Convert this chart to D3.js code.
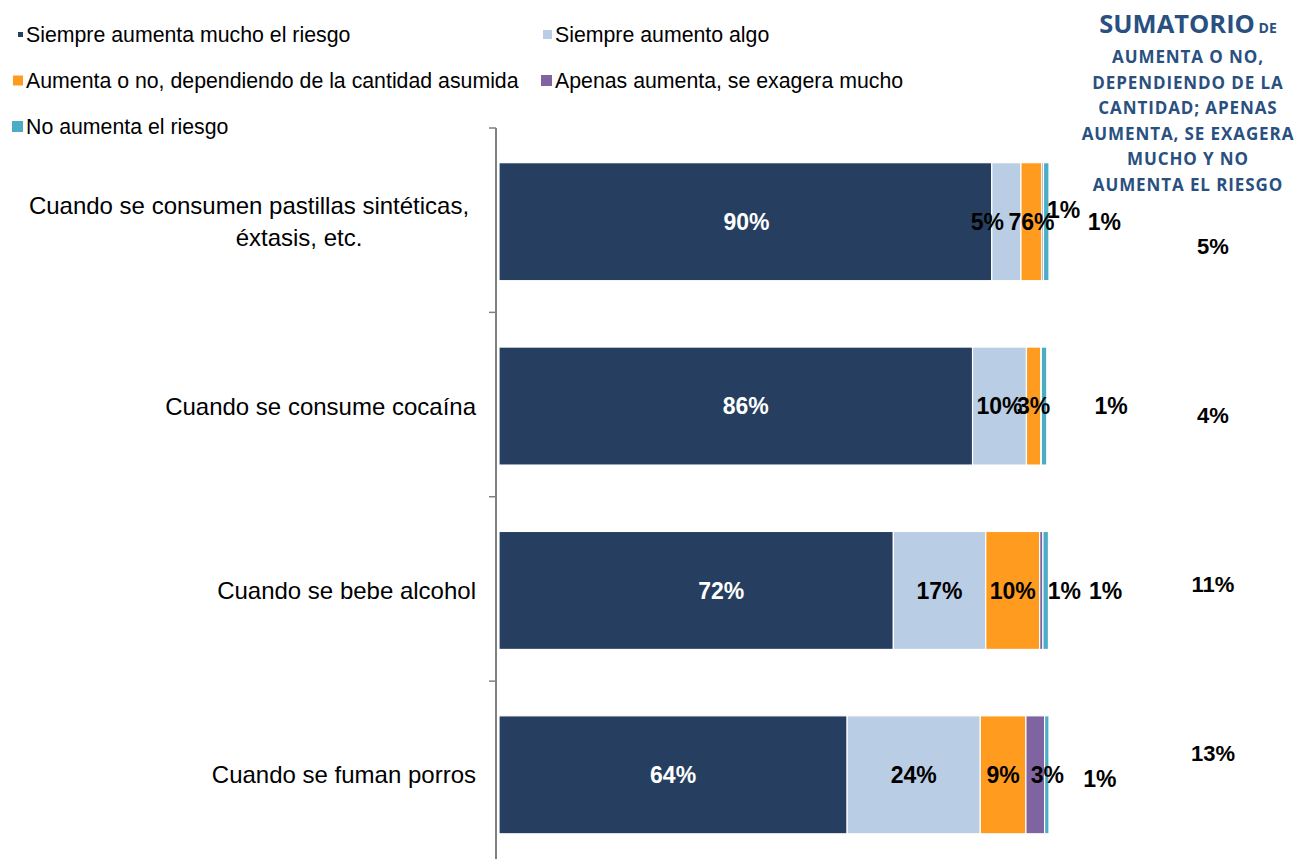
<!DOCTYPE html>
<html>
<head>
<meta charset="utf-8">
<script src="https://cdn.jsdelivr.net/npm/d3@7"></script>
<style>
  body { margin: 0; background: #fff; }
  svg { display: block; }
  text { font-family: "Liberation Sans", Arial, sans-serif; }
</style>
</head>
<body>
<svg id="chart" width="1298" height="859"></svg>
<script>
// data (percent)
const categories = [
  "Cuando se consumen pastillas sintéticas,\néxtasis, etc.",
  "Cuando se consume cocaína",
  "Cuando se bebe alcohol",
  "Cuando se fuman porros"
];
const seriesNames = [
  "Siempre aumenta mucho el riesgo",
  "Siempre aumento algo",
  "Aumenta o no, dependiendo de la cantidad asumida",
  "Apenas aumenta, se exagera mucho",
  "No aumenta el riesgo"
];
const seriesColors = ["#263f60", "#b9cde5", "#ff9c20", "#8064a2", "#4bacc6"];

const muchoRiesgo   = [89.6, 86.1, 71.7, 63.3];
const aumentoAlgo   = [5.3, 9.8, 16.8, 24.2];
const segunCantidad = [3.8, 2.6, 9.8, 8.3];
const apenasAumenta = [0.3, 0.1, 0.6, 3.4];
const noAumenta     = [1.0, 1.0, 1.0, 0.8];

// labels as printed on the chart
const muchoLabels    = ["90%", "86%", "72%", "64%"];
const algoLabels     = ["5%", "10%", "17%", "24%"];
const cantidadLabels = ["76%", "3%", "10%", "9%"];
const apenasLabels   = ["1%", "", "1%", "3%"];
const noLabels       = ["1%", "1%", "1%", "1%"];

const sumatorio = ["5%", "4%", "11%", "13%"];

const sumTitle = "SUMATORIO";
const sumTitleSmall = "DE";
const sumSubtitle = ["AUMENTA O NO,", "DEPENDIENDO DE LA", "CANTIDAD; APENAS",
                     "AUMENTA, SE EXAGERA", "MUCHO Y NO", "AUMENTA EL RIESGO"];

// hand moved labels in the original (dx, dy), per series then category
const labelNudge = [
  [[1, 0], [10, 0], [25, 0], [0, 0]],
  [[-19, 0], [0, 0], [0, 0], [0, 0]],
  [[0, 0], [0, 0], [0, 0], [0, 0]],
  [[21, -12], [0, 0], [23, 0], [12, 0]],
  [[58, 0], [67, 0], [60, 0], [53, 4]]
];

const svg = d3.select('#chart');
const keys = d3.range(seriesNames.length);
const valueArrays = [muchoRiesgo, aumentoAlgo, segunCantidad, apenasAumenta, noAumenta];
const labelArrays = [muchoLabels, algoLabels, cantidadLabels, apenasLabels, noLabels];

const table = categories.map((c, i) => {
  const row = { cat: c };
  keys.forEach(k => row[k] = valueArrays[k][i]);
  return row;
});
const stacked = d3.stack().keys(keys)(table);

const xScale = d3.scaleLinear().domain([0, 100]).range([499, 1049]);
const yScale = d3.scaleBand()
  .domain(categories)
  .range([128, 865.5])
  .paddingInner(0.36)
  .paddingOuter(0.18);

// bars
const layers = svg.append('g')
  .selectAll('g')
  .data(stacked)
  .enter()
  .append('g')
  .attr('fill', d => seriesColors[d.key]);

layers.selectAll('rect')
  .data(d => d)
  .enter()
  .append('rect')
  .attr('x', d => xScale(d[0]))
  .attr('y', d => yScale(d.data.cat) + 1.5)
  .attr('width', d => xScale(d[1]) - xScale(d[0]))
  .attr('height', yScale.bandwidth())
  .attr('stroke', '#fff')
  .attr('stroke-width', 1.2);

// value labels
stacked.forEach(layer => {
  const k = layer.key;
  svg.append('g')
    .selectAll('text')
    .data(layer)
    .enter()
    .append('text')
    .attr('x', (d, i) => (xScale(d[0]) + xScale(d[1])) / 2 + labelNudge[k][i][0])
    .attr('y', (d, i) => yScale(d.data.cat) + 1.5 + yScale.bandwidth() / 2 + labelNudge[k][i][1])
    .attr('dy', '0.36em')
    .attr('text-anchor', 'middle')
    .attr('font-size', 23)
    .attr('font-weight', 'bold')
    .attr('fill', k === 0 ? '#fff' : '#000')
    .text((d, i) => labelArrays[k][i]);
});

// category axis
const yAxis = d3.axisLeft(yScale).tickSize(0).tickFormat('');
const axisG = svg.append('g')
  .attr('transform', 'translate(496,0)')
  .call(yAxis);
axisG.select('.domain')
  .attr('stroke', '#808080')
  .attr('stroke-width', 2)
  .attr('d', 'M0,128V866');
axisG.selectAll('.boundary')
  .data(d3.range(categories.length))
  .enter()
  .append('line')
  .attr('x1', -7).attr('x2', 0)
  .attr('y1', i => yScale(categories[i]) - yScale.step() * yScale.paddingOuter())
  .attr('y2', i => yScale(categories[i]) - yScale.step() * yScale.paddingOuter())
  .attr('stroke', '#808080').attr('stroke-width', 1.5);

// category labels
categories.forEach((c, i) => {
  const lines = c.split('\n');
  const cy = yScale(c) + 1.5 + yScale.bandwidth() / 2;
  const t = svg.append('text')
    .attr('font-size', 24)
    .attr('fill', '#000')
    .attr('text-anchor', lines.length > 1 ? 'middle' : 'end');
  lines.forEach((line, j) => {
    t.append('tspan')
      .attr('x', lines.length > 1 ? (j === 0 ? 249 : 299) : 476)
      .attr('y', cy + (j - (lines.length - 1) / 2) * 32)
      .attr('dy', '0.36em')
      .text(line);
  });
});

// legend
const legendCols = [23, 552];
const legendRows = [34.5, 80.5, 126.5];
const markerSize = [5, 9, 10, 11, 11];
seriesNames.forEach((name, k) => {
  const col = k === 4 ? 0 : k % 2;
  const row = Math.floor(k / 2);
  const g = svg.append('g')
    .attr('transform', `translate(${legendCols[col]},${legendRows[row]})`);
  g.append('rect')
    .attr('x', -markerSize[k])
    .attr('y', -markerSize[k] / 2)
    .attr('width', markerSize[k])
    .attr('height', markerSize[k])
    .attr('fill', seriesColors[k]);
  g.append('text')
    .attr('x', 3)
    .attr('dy', '0.36em')
    .attr('font-size', 21.3)
    .attr('fill', '#000')
    .text(name);
});

// sumatorio column
const sumX = 1188;
const header = svg.append('text')
  .attr('x', sumX)
  .attr('y', 33)
  .attr('text-anchor', 'middle')
  .attr('fill', '#29507f')
  .attr('font-weight', 'bold')
  .style('font-family', '"Open Sans", sans-serif');
header.append('tspan').attr('font-size', 25.5).text(sumTitle);
header.append('tspan').attr('font-size', 14).text(' ' + sumTitleSmall);

svg.append('g')
  .selectAll('text')
  .data(sumSubtitle)
  .enter()
  .append('text')
  .attr('x', sumX)
  .attr('y', (d, i) => 63 + i * 25.6)
  .attr('text-anchor', 'middle')
  .attr('fill', '#29507f')
  .attr('font-weight', 'bold')
  .attr('font-size', 17)
  .attr('letter-spacing', 0.9)
  .style('font-family', '"Open Sans", sans-serif')
  .text(d => d);

const sumY = d3.scalePoint().domain(categories).range([246, 753]);
svg.append('g')
  .selectAll('text')
  .data(sumatorio)
  .enter()
  .append('text')
  .attr('x', 1213)
  .attr('y', (d, i) => sumY(categories[i]))
  .attr('dy', '0.36em')
  .attr('text-anchor', 'middle')
  .attr('font-size', 22)
  .attr('font-weight', 'bold')
  .attr('fill', '#000')
  .text(d => d);
</script>
</body>
</html>
